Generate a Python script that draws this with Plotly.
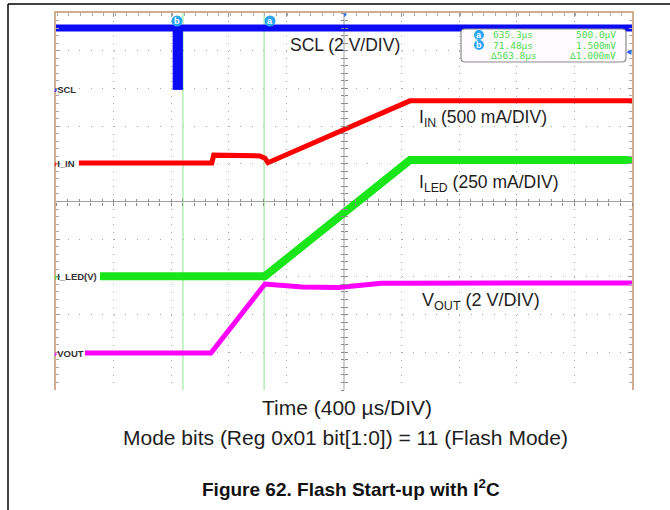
import plotly.graph_objects as go

W, H = 670, 510
# scope graticule in page pixels
L, R, T, B = 56, 632, 13, 390


def px(x):
    return x / W


def py(y):
    return 1 - y / H


# time in µs (400 µs/div, 0 = SCL burst), amplitude in graticule divisions
t_range = [-810, 3190]
div_range = [0, 10]

scl_t = [-810, 3190]
scl_v = [9.6, 9.6]
scl_burst_t = [0, 0, 71.5, 71.5]
scl_burst_v = [9.6, 7.96, 7.96, 9.6]

iin_t = [-651, 272, 285, 606, 641, 662, 1648, 3190]
iin_v = [6.02, 6.02, 6.23, 6.21, 6.15, 6.03, 7.67, 7.67]

iled_t = [-505, 641, 1648, 3190]
iled_v = [3.02, 3.02, 6.10, 6.10]

vout_t = [-609, 266, 641, 900, 1150, 1450, 3190]
vout_v = [0.98, 0.98, 2.81, 2.73, 2.72, 2.83, 2.84]

cursor_a = 635.3
cursor_b = 71.48
readout_time = ["635.3µs", "71.48µs", "∆563.8µs"]
readout_volt = ["500.0µV", "1.500mV", "∆1.000mV"]

channels = ["SCL", "I_IN", "I_LED(V)", "VOUT"]
channel_ref = [7.98, 6.02, 3.02, 0.98]
channel_col = ["#0a0af5", "#ff0000", "#19e619", "#ff00ff"]

TXT = "#1e1e1e"
FONT = "Liberation Sans, Arial, sans-serif"
MONO = "DejaVu Sans Mono, monospace"

fig = go.Figure()

# cursors
for c in (cursor_b, cursor_a):
    fig.add_trace(go.Scatter(x=[c, c], y=div_range, mode="lines",
                             line=dict(color="#9dea9d", width=1.2),
                             hoverinfo="skip", showlegend=False))

fig.add_trace(go.Scatter(x=vout_t, y=vout_v, mode="lines",
                         line=dict(color="#ff00ff", width=5), showlegend=False))
fig.add_trace(go.Scatter(x=iled_t, y=iled_v, mode="lines",
                         line=dict(color="#19e619", width=8), showlegend=False))
fig.add_trace(go.Scatter(x=iin_t, y=iin_v, mode="lines",
                         line=dict(color="#ff0000", width=5), showlegend=False))
fig.add_trace(go.Scatter(x=scl_t, y=scl_v, mode="lines",
                         line=dict(color="#0a0af5", width=7), showlegend=False))
fig.add_trace(go.Scatter(x=scl_burst_t, y=scl_burst_v, mode="lines",
                         fill="toself", fillcolor="#0a0af5",
                         line=dict(color="#0a0af5", width=0), showlegend=False))

# dummy traces so the centre tick axes get drawn
fig.add_trace(go.Scatter(x=[None], y=[None], xaxis="x2", yaxis="y2", showlegend=False))
fig.add_trace(go.Scatter(x=[None], y=[None], xaxis="x3", yaxis="y3", showlegend=False))

xdom = [px(L), px(R)]
ydom = [py(B), py(T)]
xc = (xdom[0] + xdom[1]) / 2
yc = (ydom[0] + ydom[1]) / 2
TAN = "#cfae92"

fig.update_layout(
    width=W, height=H, autosize=False,
    margin=dict(l=0, r=0, t=0, b=0),
    paper_bgcolor="white", plot_bgcolor="white",
    xaxis=dict(domain=xdom, range=t_range, side="top",
               showline=True, linecolor=TAN, linewidth=2,
               ticks="inside", ticklen=4, tickcolor="#9b9b9b",
               tick0=t_range[0], dtick=400, showticklabels=False,
               minor=dict(ticks="inside", ticklen=3, dtick=80, tickcolor="#a9a9a9", showgrid=False),
               showgrid=True, gridcolor="#a8a8a8", gridwidth=1, griddash="1px,6.54px",
               zeroline=False, fixedrange=True),
    yaxis=dict(domain=ydom, range=div_range,
               showline=True, linecolor=TAN, linewidth=2, mirror="ticks",
               ticks="inside", ticklen=4, tickcolor="#9b9b9b", dtick=1,
               showticklabels=False,
               minor=dict(ticks="inside", ticklen=3, dtick=0.2, tickcolor="#a9a9a9", showgrid=False),
               showgrid=True, gridcolor="#a8a8a8", gridwidth=1, griddash="1px,10.52px",
               zeroline=False, fixedrange=True),
    xaxis2=dict(overlaying="x", anchor="free", position=yc, range=t_range,
                showline=False, showgrid=False, zeroline=False, showticklabels=False,
                ticks="outside", ticklen=3, tick0=t_range[0], dtick=80, tickcolor="#8a8a8a"),
    xaxis3=dict(overlaying="x", anchor="free", position=yc, range=t_range,
                showline=False, showgrid=False, zeroline=False, showticklabels=False,
                ticks="inside", ticklen=3, tick0=t_range[0], dtick=80, tickcolor="#8a8a8a"),
    yaxis2=dict(overlaying="y", anchor="free", position=xc, range=div_range,
                showline=False, showgrid=False, zeroline=False, showticklabels=False,
                ticks="outside", ticklen=3, dtick=0.2, tickcolor="#8a8a8a"),
    yaxis3=dict(overlaying="y", anchor="free", position=xc, range=div_range,
                showline=False, showgrid=False, zeroline=False, showticklabels=False,
                ticks="inside", ticklen=3, dtick=0.2, tickcolor="#8a8a8a"),
)

shapes = [
    # centre crosshair
    dict(type="line", xref="x domain", yref="y", x0=0.5, x1=0.5, y0=0, y1=10,
         line=dict(color="#a0a0a0", width=1), layer="below"),
    dict(type="line", xref="x", yref="y domain", x0=t_range[0], x1=t_range[1], y0=0.5, y1=0.5,
         line=dict(color="#a0a0a0", width=1), layer="below"),
    # page frame
    dict(type="line", xref="paper", yref="paper", x0=px(8), x1=1, y0=py(4), y1=py(4),
         line=dict(color="black", width=1.5)),
    dict(type="line", xref="paper", yref="paper", x0=px(8), x1=px(8), y0=py(4), y1=0,
         line=dict(color="black", width=1.5)),
]

# readout box with rounded corners
x0, x1, y0, y1 = px(461), px(626), py(62), py(29)
rx, ry = 4 / W, 4 / H
path = (f"M {x0+rx},{y1} L {x1-rx},{y1} Q {x1},{y1} {x1},{y1-ry} "
        f"L {x1},{y0+ry} Q {x1},{y0} {x1-rx},{y0} L {x0+rx},{y0} "
        f"Q {x0},{y0} {x0},{y0+ry} L {x0},{y1-ry} Q {x0},{y1} {x0+rx},{y1} Z")
shapes.append(dict(type="path", xref="paper", yref="paper", path=path,
                   fillcolor="#fdfbfd", line=dict(color="#8c8c8c", width=1.2), layer="above"))

BADGE = "#2aa4f4"


def note(x, y, text, size, color=TXT, family=FONT, xanchor="center", **kw):
    return dict(x=px(x), y=py(y), xref="paper", yref="paper", text=text,
                showarrow=False, xanchor=xanchor, yanchor="middle",
                font=dict(family=family, size=size, color=color), **kw)


def badge(cx, cy, letter, r=5.5):
    shapes.append(dict(type="circle", xref="paper", yref="paper",
                       x0=px(cx - r), x1=px(cx + r), y0=py(cy + r), y1=py(cy - r),
                       fillcolor=BADGE, line=dict(width=0), layer="above"))
    return note(cx, cy, f"<b>{letter}</b>", 9, color="white")


annotations = [
    badge(177, 21, "b"),
    badge(270, 21, "a"),
    badge(479, 35, "a", 5),
    badge(479, 45, "b", 5),
]

GREEN_TXT = "#4fdc4f"
for i, (tt, vv) in enumerate(zip(readout_time, readout_volt)):
    yy = 35 + 10 * i
    annotations.append(note(513, yy, tt, 9.5, color=GREEN_TXT, family=MONO))
    annotations.append(note(618, yy, vv, 9.5, color=GREEN_TXT, family=MONO, xanchor="right"))

# channel ground markers
for name, ref, col in zip(channels, channel_ref, channel_col):
    annotations.append(dict(x=px(52), y=ref, xref="paper", yref="y",
                            xanchor="left", yanchor="middle",
                            text=f"<b><span style='color:{col}'>›</span>{name}</b>",
                            showarrow=False, font=dict(family=FONT, size=9.5, color="#333333")))

# trigger markers
annotations.append(note(345, 15, "▼", 6, color="#2a6df4"))
annotations.append(note(629, 52, "◀", 7, color="#2a6df4"))

# trace labels
annotations += [
    note(345, 45, "SCL (2 V/DIV)", 17.5),
    note(417, 118, "I<sub>IN</sub> (500 mA/DIV)", 17.5, xanchor="left"),
    note(417, 183, "I<sub>LED</sub> (250 mA/DIV)", 17.5, xanchor="left"),
    note(420, 301, "V<sub>OUT</sub> (2 V/DIV)", 18, xanchor="left"),
    note(347, 407, "Time (400 µs/DIV)", 21),
    note(345, 437, "Mode bits (Reg 0x01 bit[1:0]) = 11 (Flash Mode)", 21),
    note(351, 488, "<b>Figure 62. Flash Start-up with I<sup>2</sup>C</b>", 19, color="#111111"),
]

fig.update_layout(shapes=shapes, annotations=annotations)

fig.write_html("out.html", config={"displayModeBar": False},
               post_script="document.body.style.margin='0px';")
